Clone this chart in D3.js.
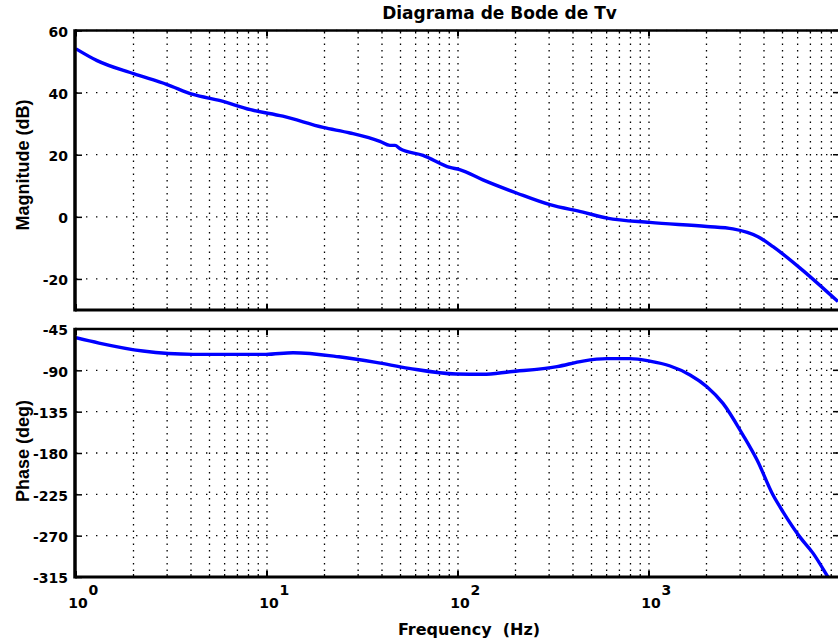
<!DOCTYPE html>
<html><head><meta charset="utf-8">
<script src="https://cdn.jsdelivr.net/npm/d3@7"></script>
<style>body{margin:0;background:#fff} svg{display:block}</style>
</head><body><svg id="c" width="838" height="642"></svg>
<script>
// ---- data ----
const freqMag = [1, 1.29, 2, 3, 4.1, 5.7, 8.2, 12.1, 19.7, 27.2, 39, 44, 46.8, 49.7, 65.6, 90.8, 102, 135, 204, 303, 451, 603, 1010, 2010, 2750, 3720, 4460, 6180, 9760];
const magDb   = [54.1, 50.3, 46.1, 42.6, 39.4, 37.4, 34.5, 32.4, 28.8, 27.0, 24.3, 23.0, 23.0, 21.9, 19.8, 15.9, 15.2, 11.9, 7.6, 3.9, 1.5, -0.4, -1.8, -3.1, -3.9, -6.4, -9.6, -16.5, -27.3];
const freqPhase = [1, 1.32, 2.24, 4.1, 9.88, 13.7, 23.8, 37.2, 55.4, 97.6, 135, 187, 330, 451, 603, 795, 1010, 1290, 1640, 2010, 2440, 3105, 3680, 4460, 5030, 6175, 7220, 8650, 9760];
const phaseDeg  = [-54.5, -60.3, -69, -72.6, -72.6, -70.8, -75.2, -81.3, -87.8, -94, -94.3, -91.5, -86, -79.9, -77.3, -77.3, -80, -85.3, -95, -107.8, -126, -160.5, -187.7, -225.8, -244, -271.6, -289, -315, -333];
const decadeExps = [0, 1, 2, 3];
const magTicks = [60, 40, 20, 0, -20];
const phaseTicks = [-45, -90, -135, -180, -225, -270, -315];
const titleText = "Diagrama de Bode de Tv";
const xLabelText = "Frequency  (Hz)";
const magLabelText = "Magnitude (dB)";
const phaseLabelText = "Phase (deg)";

// ---- layout ----
const svg = d3.select("#c");
const X0 = 76, X1 = 840;
const x = d3.scaleLog().domain([1, 1e4]).range([X0, X1]);
const panels = [
  {y: d3.scaleLinear().domain([-30, 60]).range([310, 30.5]), ticks: magTicks, fx: freqMag, fy: magDb, label: magLabelText, id: "m", ly: 165},
  {y: d3.scaleLinear().domain([-315, -45]).range([577, 329]), ticks: phaseTicks, fx: freqPhase, fy: phaseDeg, label: phaseLabelText, id: "p", ly: 451}
];

const minor = [];
decadeExps.forEach(d => { for (let m = 1; m <= 9; m++) minor.push({v: m * Math.pow(10, d), major: m === 1}); });
minor.push({v: 1e4, major: true});

const tickFont = "'DejaVu Sans', Verdana, sans-serif";

panels.forEach(p => {
  const [yb, yt] = p.y.range();
  const g = svg.append("g");
  svg.append("clipPath").attr("id", "clip" + p.id)
    .append("rect").attr("x", X0).attr("y", yt).attr("width", X1 - X0).attr("height", yb - yt);
  // vertical grid
  g.selectAll(".vg").data(minor.filter(t => t.v > 1 && t.v < 1e4)).join("line")
    .attr("x1", t => x(t.v)).attr("x2", t => x(t.v)).attr("y1", yt).attr("y2", yb)
    .attr("stroke", "#000").attr("stroke-width", 1.3).attr("stroke-dasharray", "1.4,5.1");
  // horizontal grid
  g.selectAll(".hg").data(p.ticks).join("line")
    .attr("x1", X0).attr("x2", X1).attr("y1", d => p.y(d)).attr("y2", d => p.y(d))
    .attr("stroke", "#000").attr("stroke-width", 1.3).attr("stroke-dasharray", "1.4,8.6");
  // x ticks top and bottom
  minor.forEach(t => {
    const L = t.major ? 6 : 3;
    g.append("line").attr("x1", x(t.v)).attr("x2", x(t.v)).attr("y1", yt).attr("y2", yt + L)
      .attr("stroke", "#000").attr("stroke-width", t.major ? 2 : 1.3);
    g.append("line").attr("x1", x(t.v)).attr("x2", x(t.v)).attr("y1", yb).attr("y2", yb - L)
      .attr("stroke", "#000").attr("stroke-width", t.major ? 2 : 1.3);
  });
  // y axis via d3 axis
  const ax = g.append("g").attr("transform", `translate(${X0},0)`)
    .call(d3.axisLeft(p.y).tickValues(p.ticks).tickSize(-6).tickPadding(8).tickFormat(d3.format("d")));
  ax.select(".domain").remove();
  ax.selectAll(".tick line").attr("stroke", "#000").attr("stroke-width", 1.5);
  ax.selectAll(".tick text").attr("font-family", tickFont).attr("font-weight", "bold")
    .attr("font-size", 14).attr("fill", "#000").attr("dy", "0.42em")
    .text(d => (d < 0 ? "-" : "") + Math.abs(d));
  // right ticks
  g.selectAll(".rt").data(p.ticks).join("line")
    .attr("x1", X1 - 7).attr("x2", X1).attr("y1", d => p.y(d)).attr("y2", d => p.y(d))
    .attr("stroke", "#000").attr("stroke-width", 1.5);
  // curve
  const pts = p.fx.map((f, i) => [f, p.fy[i]]);
  g.append("path").datum(pts).attr("clip-path", `url(#clip${p.id})`)
    .attr("fill", "none").attr("stroke", "#0000ff").attr("stroke-width", 3.4)
    .attr("stroke-linejoin", "round")
    .attr("d", d3.line().x(d => x(d[0])).y(d => p.y(d[1])).curve(d3.curveMonotoneX));
  // box
  g.append("line").attr("x1", X0 - 1).attr("x2", X1).attr("y1", yt).attr("y2", yt).attr("stroke", "#000").attr("stroke-width", 2.5);
  g.append("line").attr("x1", X0 - 1).attr("x2", X1).attr("y1", yb).attr("y2", yb).attr("stroke", "#000").attr("stroke-width", 3);
  g.append("line").attr("x1", X0 - 1).attr("x2", X0 - 1).attr("y1", yt - 1.2).attr("y2", yb + 1.5).attr("stroke", "#000").attr("stroke-width", 3.5);
  // y label
  svg.append("text").attr("transform", `translate(29,${p.ly}) rotate(-90)`)
    .attr("text-anchor", "middle").attr("font-family", "'Liberation Sans Narrow', 'Arial Narrow', sans-serif")
    .attr("font-weight", "bold").attr("font-size", 18).text(p.label);
});

// x tick labels (10^n)
decadeExps.forEach(d => {
  const px = x(Math.pow(10, d));
  svg.append("text").attr("x", px + 2).attr("y", 608).attr("text-anchor", "middle")
    .attr("font-family", tickFont).attr("font-weight", "bold").attr("font-size", 14).text("10");
  svg.append("text").attr("x", px + 12.5).attr("y", 595).attr("text-anchor", "start")
    .attr("font-family", tickFont).attr("font-weight", "bold").attr("font-size", 14).text(d);
});

// title and x label
svg.append("text").attr("x", 499.5).attr("y", 19).attr("text-anchor", "middle")
  .attr("font-family", tickFont).attr("font-weight", "bold").attr("font-size", 17).text(titleText);
svg.append("text").attr("x", 469).attr("y", 635).attr("text-anchor", "middle").style("white-space", "pre")
  .attr("font-family", tickFont).attr("font-weight", "bold").attr("font-size", 16).text(xLabelText);
</script></body></html>
